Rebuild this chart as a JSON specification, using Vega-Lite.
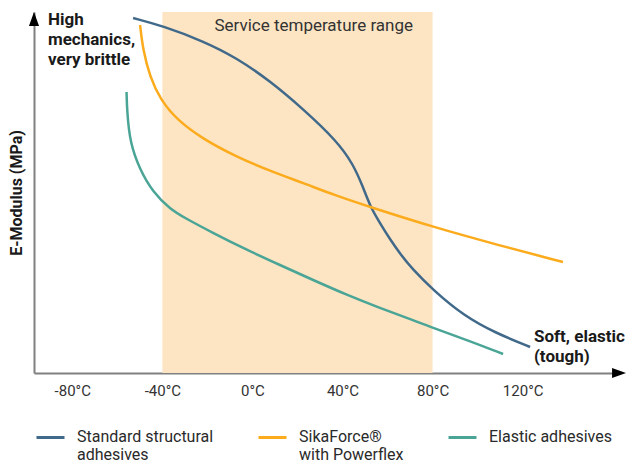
{
  "$schema": "https://vega.github.io/schema/vega-lite/v6.json",
  "width": 581,
  "height": 361,
  "autosize": "none",
  "padding": {"left": 34, "top": 12, "right": 11, "bottom": 90},
  "config": {
    "view": {"stroke": null},
    "font": "Roboto",
    "axisX": {
      "ticks": false,
      "grid": false,
      "domainColor": "#808080",
      "domainWidth": 2,
      "labelFont": "Roboto",
      "labelFontSize": 15,
      "labelColor": "#333333",
      "labelPadding": 10
    },
    "axisY": {
      "labels": false,
      "ticks": false,
      "grid": false,
      "domainColor": "#808080",
      "domainWidth": 2,
      "titleFont": "Roboto",
      "titleFontSize": 16,
      "titleFontWeight": "bold",
      "titleColor": "#1a1a1a",
      "titlePadding": 10
    },
    "legend": {
      "orient": "none",
      "legendX": 1,
      "legendY": 410,
      "direction": "horizontal",
      "columns": 3,
      "gridAlign": "none",
      "symbolType": "stroke",
      "symbolSize": 784,
      "symbolStrokeWidth": 3,
      "labelOffset": 11,
      "columnPadding": 38,
      "labelFont": "Roboto",
      "labelFontSize": 16,
      "labelColor": "#2a2a2a",
      "labelBaseline": "top",
      "labelLimit": 250,
      "title": null
    }
  },
  "datasets": {
    "band": [{"t": -40, "t2": 80}],
    "curves": [
      {"series": "Standard structural adhesives", "i": 1, "t": -53.0, "e": 355},
      {"series": "Standard structural adhesives", "i": 2, "t": -39.7, "e": 347},
      {"series": "Standard structural adhesives", "i": 3, "t": -22.0, "e": 332},
      {"series": "Standard structural adhesives", "i": 4, "t": -6.9, "e": 315},
      {"series": "Standard structural adhesives", "i": 5, "t": 7.8, "e": 292},
      {"series": "Standard structural adhesives", "i": 6, "t": 22.5, "e": 264},
      {"series": "Standard structural adhesives", "i": 7, "t": 37.5, "e": 232},
      {"series": "Standard structural adhesives", "i": 8, "t": 44.7, "e": 209},
      {"series": "Standard structural adhesives", "i": 9, "t": 49.1, "e": 186},
      {"series": "Standard structural adhesives", "i": 10, "t": 52.2, "e": 167},
      {"series": "Standard structural adhesives", "i": 11, "t": 56.6, "e": 150},
      {"series": "Standard structural adhesives", "i": 12, "t": 61.0, "e": 134},
      {"series": "Standard structural adhesives", "i": 13, "t": 66.0, "e": 118},
      {"series": "Standard structural adhesives", "i": 14, "t": 71.0, "e": 104},
      {"series": "Standard structural adhesives", "i": 15, "t": 80.2, "e": 83},
      {"series": "Standard structural adhesives", "i": 16, "t": 94.0, "e": 57},
      {"series": "Standard structural adhesives", "i": 17, "t": 108.0, "e": 40},
      {"series": "Standard structural adhesives", "i": 18, "t": 123.3, "e": 26},
      {"series": "SikaForce® with Powerflex", "i": 1, "t": -49.9, "e": 348},
      {"series": "SikaForce® with Powerflex", "i": 2, "t": -48.6, "e": 323},
      {"series": "SikaForce® with Powerflex", "i": 3, "t": -45.5, "e": 296},
      {"series": "SikaForce® with Powerflex", "i": 4, "t": -41.0, "e": 274},
      {"series": "SikaForce® with Powerflex", "i": 5, "t": -33.5, "e": 253},
      {"series": "SikaForce® with Powerflex", "i": 6, "t": -22.0, "e": 234},
      {"series": "SikaForce® with Powerflex", "i": 7, "t": -6.9, "e": 216},
      {"series": "SikaForce® with Powerflex", "i": 8, "t": 7.8, "e": 202},
      {"series": "SikaForce® with Powerflex", "i": 9, "t": 22.5, "e": 190},
      {"series": "SikaForce® with Powerflex", "i": 10, "t": 37.5, "e": 177},
      {"series": "SikaForce® with Powerflex", "i": 11, "t": 52.2, "e": 166},
      {"series": "SikaForce® with Powerflex", "i": 12, "t": 80.2, "e": 146},
      {"series": "SikaForce® with Powerflex", "i": 13, "t": 109.0, "e": 128},
      {"series": "SikaForce® with Powerflex", "i": 14, "t": 137.9, "e": 111},
      {"series": "Elastic adhesives", "i": 1, "t": -55.9, "e": 281},
      {"series": "Elastic adhesives", "i": 2, "t": -55.7, "e": 263},
      {"series": "Elastic adhesives", "i": 3, "t": -54.4, "e": 230},
      {"series": "Elastic adhesives", "i": 4, "t": -49.9, "e": 203},
      {"series": "Elastic adhesives", "i": 5, "t": -44.2, "e": 181},
      {"series": "Elastic adhesives", "i": 6, "t": -36.6, "e": 164},
      {"series": "Elastic adhesives", "i": 7, "t": -30.0, "e": 155},
      {"series": "Elastic adhesives", "i": 8, "t": -17.5, "e": 140},
      {"series": "Elastic adhesives", "i": 9, "t": -2.4, "e": 123},
      {"series": "Elastic adhesives", "i": 10, "t": 12.2, "e": 108},
      {"series": "Elastic adhesives", "i": 11, "t": 26.9, "e": 93},
      {"series": "Elastic adhesives", "i": 12, "t": 42.0, "e": 78},
      {"series": "Elastic adhesives", "i": 13, "t": 56.6, "e": 65},
      {"series": "Elastic adhesives", "i": 14, "t": 71.3, "e": 53},
      {"series": "Elastic adhesives", "i": 15, "t": 80.2, "e": 45},
      {"series": "Elastic adhesives", "i": 16, "t": 95.3, "e": 33},
      {"series": "Elastic adhesives", "i": 17, "t": 111.3, "e": 19}
    ],
    "notes": [
      {"t": -90.8, "e": 348, "label": ["High", "mechanics,", "very brittle"]},
      {"t": 125.0, "e": 31, "label": ["Soft, elastic", "(tough)"]}
    ],
    "bandlabel": [{"t": 27.2, "e": 347, "label": "Service temperature range"}],
    "arrows": [
      {"t": -97, "e": 354, "dir": "up"},
      {"t": 162.8, "e": 0, "dir": "right"}
    ]
  },
  "layer": [
    {
      "data": {"name": "band"},
      "mark": {"type": "rect", "color": "#fde5c4"},
      "encoding": {
        "x": {
          "field": "t",
          "type": "quantitative",
          "scale": {"domain": [-97, 161], "nice": false, "zero": false},
          "axis": {
            "title": null,
            "values": [-80, -40, 0, 40, 80, 120],
            "labelExpr": "(datum.value < 0 ? '-' + abs(datum.value) : '' + datum.value) + '°C'"
          }
        },
        "x2": {"field": "t2"}
      }
    },
    {
      "data": {"name": "curves"},
      "mark": {"type": "line", "strokeWidth": 2.5, "interpolate": "basis", "clip": false},
      "encoding": {
        "x": {
          "field": "t",
          "type": "quantitative",
          "axis": {
            "title": null,
            "values": [-80, -40, 0, 40, 80, 120],
            "labelExpr": "(datum.value < 0 ? '-' + abs(datum.value) : '' + datum.value) + '°C'"
          }
        },
        "y": {
          "field": "e",
          "type": "quantitative",
          "scale": {"domain": [0, 361], "nice": false, "zero": false},
          "axis": {"title": "E-Modulus (MPa)"}
        },
        "color": {
          "field": "series",
          "type": "nominal",
          "scale": {
            "domain": ["Standard structural adhesives", "SikaForce® with Powerflex", "Elastic adhesives"],
            "range": ["#41698a", "#fbab1c", "#4aa596"]
          },
          "legend": {
            "labelExpr": "datum.label == 'Standard structural adhesives' ? ['Standard structural', 'adhesives'] : (datum.label == 'SikaForce® with Powerflex' ? ['SikaForce®', 'with Powerflex'] : datum.label)",
            "encode": {"labels": {"update": {"dy": {"value": -9}}}}
          }
        },
        "order": {"field": "i", "type": "quantitative"}
      }
    },
    {
      "data": {"name": "bandlabel"},
      "mark": {"type": "text", "align": "center", "baseline": "middle", "fontSize": 17, "color": "#333333", "font": "Roboto"},
      "encoding": {
        "x": {"field": "t", "type": "quantitative", "axis": {"title": null, "values": [-80, -40, 0, 40, 80, 120], "labelExpr": "(datum.value < 0 ? '-' + abs(datum.value) : '' + datum.value) + '°C'"}},
        "y": {"field": "e", "type": "quantitative", "axis": {"title": "E-Modulus (MPa)"}},
        "text": {"field": "label"}
      }
    },
    {
      "data": {"name": "notes"},
      "mark": {"type": "text", "align": "left", "baseline": "alphabetic", "fontSize": 17, "fontWeight": "bold", "color": "#1a1a1a", "font": "Roboto", "lineHeight": 20},
      "encoding": {
        "x": {"field": "t", "type": "quantitative", "axis": {"title": null, "values": [-80, -40, 0, 40, 80, 120], "labelExpr": "(datum.value < 0 ? '-' + abs(datum.value) : '' + datum.value) + '°C'"}},
        "y": {"field": "e", "type": "quantitative", "axis": {"title": "E-Modulus (MPa)"}},
        "text": {"field": "label"}
      }
    },
    {
      "data": {"name": "arrows"},
      "mark": {"type": "point", "filled": true, "size": 196, "color": "#000000", "opacity": 1, "clip": false},
      "encoding": {
        "x": {"field": "t", "type": "quantitative", "axis": {"title": null, "values": [-80, -40, 0, 40, 80, 120], "labelExpr": "(datum.value < 0 ? '-' + abs(datum.value) : '' + datum.value) + '°C'"}},
        "y": {"field": "e", "type": "quantitative", "axis": {"title": "E-Modulus (MPa)"}},
        "shape": {
          "field": "dir",
          "type": "nominal",
          "scale": {"domain": ["up", "right"], "range": ["M-0.72,1L0.72,1L0,-1Z", "M-1,-0.72L1,0L-1,0.72Z"]},
          "legend": null
        }
      }
    }
  ]
}
